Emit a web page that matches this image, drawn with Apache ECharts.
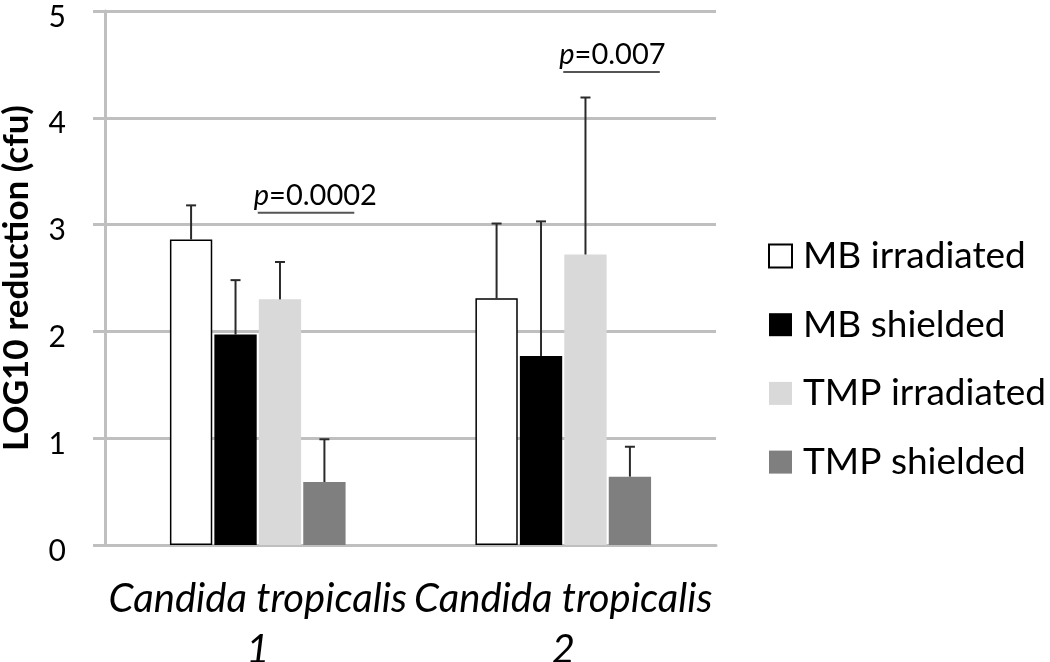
<!DOCTYPE html>
<html>
<head>
<meta charset="utf-8">
<script src="https://cdn.jsdelivr.net/npm/echarts@6/dist/echarts.min.js"></script>
<style>html,body{margin:0;padding:0;background:#fff;}#chart{width:1050px;height:662px;}</style>
</head>
<body>
<div id="chart"></div>
<script>
const categories = ['Candida tropicalis\n1', 'Candida tropicalis\n2'];
const seriesNames = ['MB irradiated', 'MB shielded', 'TMP irradiated', 'TMP shielded'];
const mbIrradiated = [2.86, 2.31];
const mbShielded = [1.97, 1.77];
const tmpIrradiated = [2.30, 2.72];
const tmpShielded = [0.59, 0.64];
// upper end of the error bars
const mbIrradiatedErr = [3.18, 3.01];
const mbShieldedErr = [2.48, 3.03];
const tmpIrradiatedErr = [2.65, 4.19];
const tmpShieldedErr = [0.99, 0.92];
const yTicks = [0, 1, 2, 3, 4, 5];
// p-value annotations: category index, y level of the bracket line, text
const pCategories = [0, 1];
const pLevels = [3.11, 4.43];
const pTexts = ['0.0002', '0.007'];

const values = [mbIrradiated, mbShielded, tmpIrradiated, tmpShielded];
const errs = [mbIrradiatedErr, mbShieldedErr, tmpIrradiatedErr, tmpShieldedErr];
const colors = ['#ffffff', '#000000', '#d9d9d9', '#7f7f7f'];
const FONT = 'Lato';
const CAT_GAP = 0.425, BAR_GAP = 0.05, N = 4;

function barCenterOffset(band, i) {
  const span = band * (1 - CAT_GAP);
  const w = span / (N + (N - 1) * BAR_GAP);
  return -span / 2 + i * w * (1 + BAR_GAP) + w / 2;
}

const barSeries = seriesNames.map((name, i) => ({
  name: name,
  type: 'bar',
  data: values[i],
  barCategoryGap: (CAT_GAP * 100) + '%',
  barGap: (BAR_GAP * 100) + '%',
  itemStyle: i === 0 ? { color: colors[i], borderColor: '#000', borderWidth: 1.5 } : { color: colors[i] },
  emphasis: { disabled: true },
  z: 2
}));

const errData = [];
errs.forEach((arr, si) => arr.forEach((v, ci) => errData.push([ci, values[si][ci], v, si])));

const errSeries = {
  type: 'custom',
  name: 'err',
  data: errData,
  encode: { x: 0, y: 2 },
  z: 3,
  renderItem: function (params, api) {
    const ci = api.value(0), si = api.value(3);
    const band = api.size([1, 0])[0];
    const base = api.coord([ci, api.value(1)]);
    const top = api.coord([ci, api.value(2)]);
    const x = base[0] + barCenterOffset(band, si);
    const style = { stroke: '#2a2a2a', lineWidth: 2 };
    return {
      type: 'group',
      children: [
        { type: 'line', shape: { x1: x, y1: base[1], x2: x, y2: top[1] }, style: style },
        { type: 'line', shape: { x1: x - 5, y1: top[1], x2: x + 5, y2: top[1] }, style: style }
      ]
    };
  }
};

const pData = pCategories.map((c, i) => [c, pLevels[i], i]);
const pSeries = {
  type: 'custom',
  name: 'p',
  data: pData,
  encode: { x: 0, y: 1 },
  z: 4,
  renderItem: function (params, api) {
    const ci = api.value(0), idx = api.value(2);
    const band = api.size([1, 0])[0];
    const p = api.coord([ci, api.value(1)]);
    const x1 = p[0], x2 = p[0] + band * 0.316;
    return {
      type: 'group',
      children: [
        { type: 'line', shape: { x1: x1, y1: p[1], x2: x2, y2: p[1] }, style: { stroke: '#555', lineWidth: 2 } },
        { type: 'text', style: {
            text: '{i|p}=' + pTexts[idx], x: x1 - 4, y: p[1] - 17,
            align: 'left', verticalAlign: 'middle',
            fontFamily: FONT, fontSize: 29, fill: '#000',
            rich: { i: { fontStyle: 'italic', fontFamily: FONT, fontSize: 29, fill: '#000' } }
          } }
      ]
    };
  }
};

const chart = echarts.init(document.getElementById('chart'));
chart.setOption({
  animation: false,
  backgroundColor: '#fff',
  grid: { left: 105, right: 334, top: 11, bottom: 117, containLabel: false, outerBoundsMode: 'none' },
  legend: {
    data: seriesNames,
    orient: 'vertical',
    left: 768,
    top: 236,
    padding: 0,
    itemWidth: 23,
    itemHeight: 23,
    itemGap: 28.7,
    icon: 'rect',
    selectedMode: false,
    textStyle: { fontFamily: FONT, fontSize: 37, color: '#000', lineHeight: 40, padding: [0, 0, 0, 6] }
  },
  xAxis: {
    type: 'category',
    data: categories,
    axisLine: { lineStyle: { color: '#bfbfbf', width: 3 } },
    axisTick: { show: false },
    axisLabel: { fontFamily: FONT, fontSize: 40, fontStyle: 'italic', color: '#000', lineHeight: 51, margin: 29, interval: 0 }
  },
  yAxis: {
    type: 'value',
    min: yTicks[0],
    max: yTicks[yTicks.length - 1],
    interval: 1,
    name: 'LOG10 reduction (cfu)',
    nameLocation: 'middle',
    nameGap: 71,
    nameTextStyle: { fontFamily: FONT, fontSize: 35, fontWeight: 'bold', color: '#000' },
    axisLine: { show: true, lineStyle: { color: '#bfbfbf', width: 3 } },
    axisTick: { show: true, length: 12, lineStyle: { color: '#bfbfbf', width: 3 } },
    axisLabel: {
      fontFamily: FONT, fontSize: 30, color: '#000', margin: 39,
      formatter: '{a|{value}}',
      rich: { a: { fontFamily: FONT, fontSize: 30, color: '#000', padding: [12, 0, 0, 0] } }
    },
    splitLine: { lineStyle: { color: '#bfbfbf', width: 3 } }
  },
  series: barSeries.concat([errSeries, pSeries])
});
</script>
</body>
</html>
